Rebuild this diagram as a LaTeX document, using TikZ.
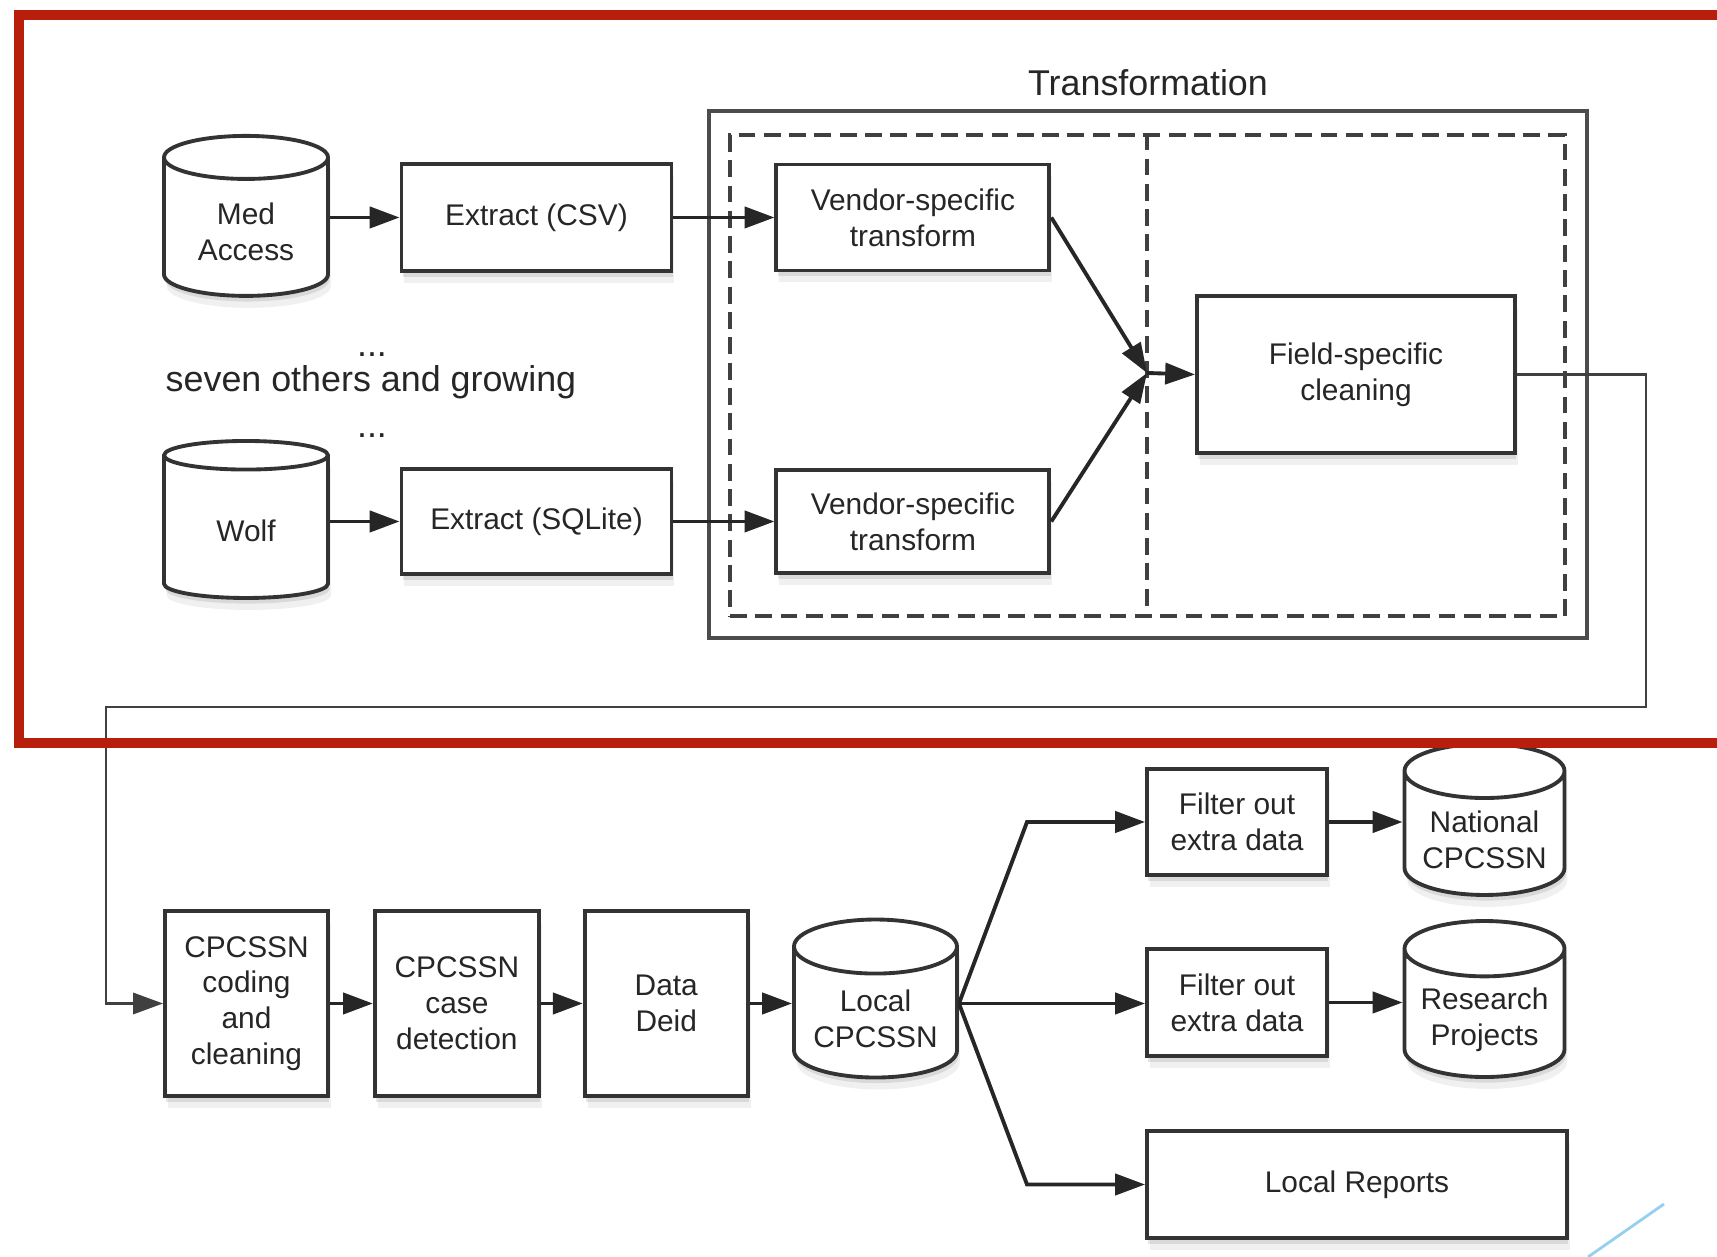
\documentclass[tikz,border=0pt]{standalone}
\usepackage{fontspec}
\setmainfont{Liberation Sans}
\usepackage{tikz}
\usetikzlibrary{arrows.meta,positioning,shapes.geometric,shadows}
\definecolor{markred}{RGB}{184,30,12}
\definecolor{straycyan}{RGB}{150,208,240}
\tikzset{
  softshadow/.style={drop shadow={opacity=0.2,shadow xshift=0.4pt,shadow yshift=-1.6pt},
    drop shadow={opacity=0.12,shadow xshift=0.8pt,shadow yshift=-3.4pt}},
  stepbox/.style={draw=black!80,fill=white,line width=1.1pt,align=center,
    text=black!85,font=\fontsize{8.5}{10.2}\selectfont,inner sep=2pt,softshadow},
  storebox/.style={stepbox,cylinder,shape border rotate=90,aspect=0.39},
  flowarrow/.style={-{Triangle[length=8.5pt,width=6pt]},line width=1.1pt,draw=black!85},
  loopline/.style={-{Triangle[length=8.5pt,width=6pt]},line width=0.8pt,draw=black!75},
  groupframe/.style={draw=black!70,line width=1pt},
  laneframe/.style={draw=black!75,line width=1pt,dash pattern=on 4.8pt off 2.4pt},
  notetext/.style={text=black!85,font=\fontsize{10.2}{12}\selectfont},
  dotsmark/.style={notetext,inner sep=0pt,text height=0pt,text depth=0pt}
}
\begin{document}
\begin{tikzpicture}
  \useasboundingbox (0,0) rectangle (17.17,-12.57);
  % transformation frames
  \node[groupframe,minimum width=8.78cm,minimum height=5.27cm] (transformframe) at (11.48,-3.745) {};
  \node[notetext,above=0.01cm of transformframe.north] (transformtitle) {Transformation};
  \node[laneframe,minimum width=8.35cm,minimum height=4.81cm] (laneframe) at (11.475,-3.755) {};
  \coordinate (merge) at (11.47,-3.73);
  \draw[laneframe] (laneframe.north -| merge) -- (laneframe.south -| merge);

  % sources
  \node[storebox,minimum width=1.64cm,minimum height=1.60cm] (medaccess) at (2.46,-2.32) {Med\\Access};
  \node[stepbox,minimum width=2.70cm,minimum height=1.07cm] (extractcsv) at (5.365,-2.175) {Extract (CSV)};
  \node[stepbox,minimum width=2.73cm,minimum height=1.06cm,right=1.01cm of extractcsv] (vendortop) {Vendor-specific\\transform};
  \node[storebox,minimum width=1.64cm,minimum height=1.57cm] (wolf) at (2.46,-5.305) {Wolf};
  \node[stepbox,minimum width=2.70cm,minimum height=1.05cm] (extractsql) at (5.365,-5.215) {Extract (SQLite)};
  \node[stepbox,minimum width=2.73cm,minimum height=1.03cm,right=1.01cm of extractsql] (vendorbottom) {Vendor-specific\\transform};
  \node[notetext] (othersnote) at (3.71,-3.82) {seven others and growing};
  \node[dotsmark] (dotsabove) at (3.72,-3.565) {...};
  \node[dotsmark] (dotsbelow) at (3.72,-4.38) {...};
  \node[stepbox,minimum width=3.18cm,minimum height=1.57cm] (fieldclean) at (13.56,-3.745) {Field-specific\\cleaning};

  \draw[flowarrow] (medaccess.east |- extractcsv.west) -- (extractcsv.west);
  \draw[flowarrow] (extractcsv.east) -- (vendortop.west);
  \draw[flowarrow] (wolf.east |- extractsql.west) -- (extractsql.west);
  \draw[flowarrow] (extractsql.east) -- (vendorbottom.west);
  \draw[flowarrow] (vendortop.east) -- (merge);
  \draw[flowarrow] (vendorbottom.east) -- (merge);
  \draw[flowarrow] (merge) -- (fieldclean.west);

  % CPCSSN pipeline
  \node[stepbox,minimum width=1.63cm,minimum height=1.85cm] (coding) at (2.465,-10.035) {CPCSSN\\coding\\and\\cleaning};
  \node[stepbox,minimum width=1.64cm,minimum height=1.85cm,right=0.43cm of coding] (casedetect) {CPCSSN\\case\\detection};
  \node[stepbox,minimum width=1.63cm,minimum height=1.85cm,right=0.42cm of casedetect] (deid) {Data\\Deid};
  \node[storebox,minimum width=1.63cm,minimum height=1.58cm] (localdb) at (8.755,-10.185) {Local\\CPCSSN};
  \node[stepbox,minimum width=1.80cm,minimum height=1.06cm] (filternat) at (12.37,-8.22) {Filter out\\extra data};
  \node[storebox,minimum width=1.60cm,minimum height=1.51cm] (natdb) at (14.845,-8.395) {National\\CPCSSN};
  \node[stepbox,minimum width=1.80cm,minimum height=1.07cm] (filterres) at (12.37,-10.025) {Filter out\\extra data};
  \node[storebox,minimum width=1.60cm,minimum height=1.56cm] (resdb) at (14.845,-10.195) {Research\\Projects};
  \node[stepbox,minimum width=4.20cm,minimum height=1.07cm] (localreports) at (13.57,-11.845) {Local Reports};
  \coordinate (fanout) at (localdb.east |- coding.east);
  \coordinate (fanbend) at (10.27,-10.035);

  \coordinate (loopright) at (16.46,-7.07);
  \coordinate (loopleft) at (1.06,-7.07);
  \draw[loopline] (fieldclean.east) -| (loopright) -- (loopleft) |- (coding.west);
  \draw[flowarrow] (coding.east) -- (casedetect.west);
  \draw[flowarrow] (casedetect.east) -- (deid.west);
  \draw[flowarrow] (deid.east) -- (deid.east -| localdb.west);
  \draw[flowarrow] (fanout) -- (fanbend |- filternat.west) -- (filternat.west);
  \draw[flowarrow] (fanout) -- (fanout -| filterres.west);
  \draw[flowarrow] (fanout) -- (fanbend |- localreports.west) -- (localreports.west);
  \draw[flowarrow] (filternat.east) -- (filternat.east -| natdb.west);
  \draw[flowarrow] (filterres.east) -- (filterres.east -| resdb.west);

  % marks over the figure
  \draw[markred,line width=3.1pt] (0.19,-0.15) rectangle (17.6,-7.43);
  \draw[straycyan,line width=0.8pt] (15.88,-12.57) -- (16.64,-12.04);
\end{tikzpicture}
\end{document}
